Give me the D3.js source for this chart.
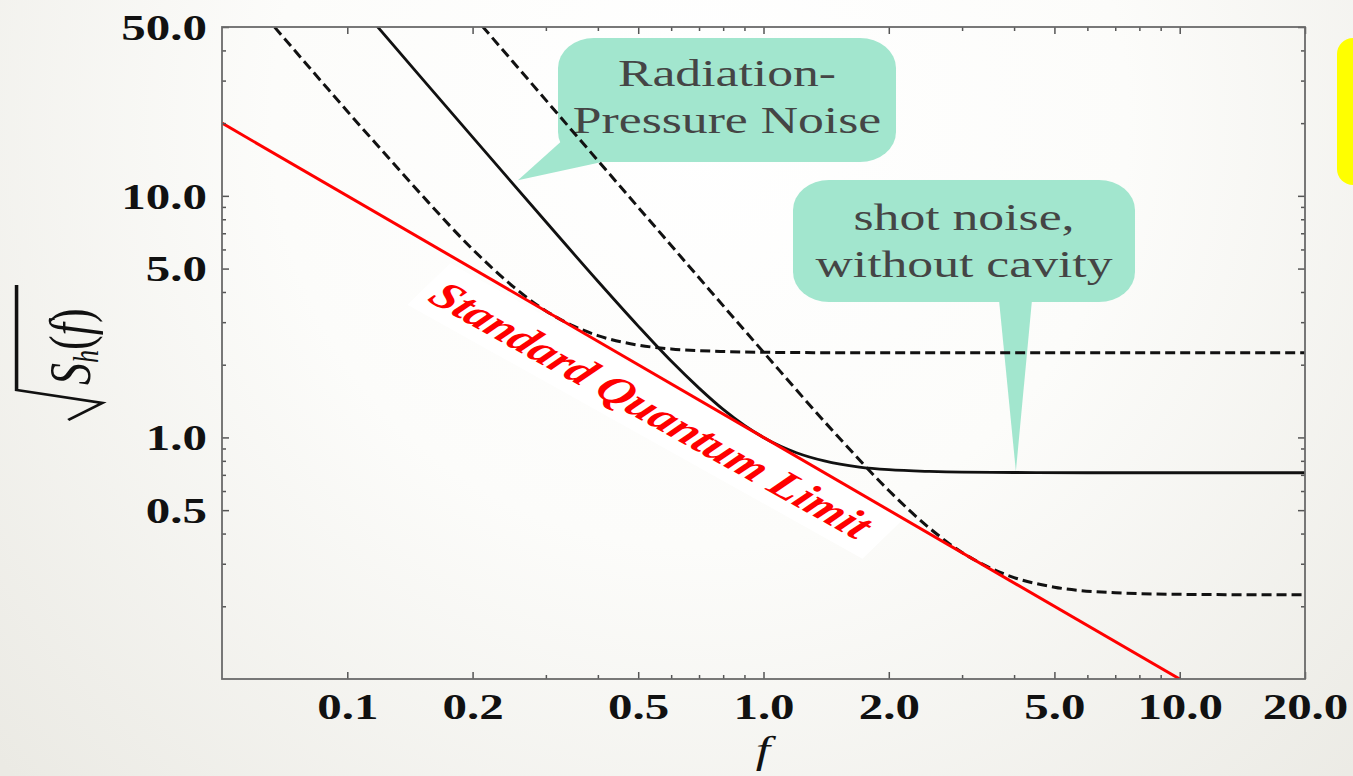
<!DOCTYPE html>
<html>
<head>
<meta charset="utf-8">
<script src="https://cdn.jsdelivr.net/npm/d3@7"></script>
<style>
    body { margin: 0; background: #fff; }
    svg { display: block; }
    .tick text { font-family: "Liberation Serif", serif; font-weight: bold; font-size: 36px; fill: #111; }
    .tick line { stroke: #555; stroke-width: 1.5px; }
    .bubble text { font-family: "Liberation Serif", serif; font-size: 38px; fill: #454545; }
</style>
</head>
<body>
<svg width="1353" height="776"></svg>
<script>
    // valores (f, sqrt(S_h))
    var sqlF = [0.05, 10];
    var sqlS = [20, 0.1];

    var solidF = [0.11, 0.15, 0.2, 0.3, 0.4, 0.5, 0.6, 0.7, 0.8, 0.9, 1.0, 1.1, 1.2, 1.4, 1.7, 2, 2.5, 3, 4, 6, 10, 20];
    var solidS = [57.9, 31.1, 17.5, 7.81, 4.43, 2.89, 2.07, 1.60, 1.306, 1.121, 1.0, 0.919, 0.864, 0.799, 0.754, 0.735, 0.723, 0.718, 0.716, 0.714, 0.714, 0.714];

    var dash1F = [0.06, 0.07, 0.08, 0.09, 0.1, 0.12, 0.15, 0.2, 0.25, 0.3, 0.35, 0.4, 0.5, 0.6, 0.8, 1.0, 1.5, 2.5, 5, 10, 20];
    var dash1S = [62.0, 45.6, 34.9, 27.6, 22.4, 15.7, 10.2, 6.01, 4.22, 3.34, 2.89, 2.64, 2.41, 2.325, 2.268, 2.252, 2.242, 2.241, 2.24, 2.24, 2.24];

    var dash2F = [0.2, 0.25, 0.3, 0.4, 0.5, 0.7, 1.0, 1.5, 2.0, 2.5, 3.0, 3.5, 4.0, 5.0, 7.0, 10, 20];
    var dash2S = [56.1, 35.9, 24.9, 14.0, 8.97, 4.58, 2.254, 1.021, 0.603, 0.4225, 0.334, 0.2885, 0.263, 0.240, 0.2276, 0.2241, 0.223];

    var xMajor = [0.1, 0.2, 0.5, 1, 2, 5, 10, 20];
    var xMinor = [0.3, 0.4, 0.6, 0.7, 0.8, 0.9, 3, 4, 6, 7, 8, 9];
    var yMajor = [0.5, 1, 5, 10, 50];
    var yMinor = [0.2, 0.3, 0.4, 0.6, 0.7, 0.8, 0.9, 2, 3, 4, 6, 7, 8, 9, 20, 30, 40];

    var svg = d3.select("svg"),
        width = +svg.attr("width"),
        height = +svg.attr("height");

    var stretch = 1.36; // o slide original foi esticado na horizontal

    var x = d3.scaleLog().domain([0.05, 20]).range([222, 1305]);
    var y = d3.scaleLog().domain([0.1, 50]).range([679, 27]);
    var fmt = d3.format(".1f");

    // fundo
    var defs = svg.append("defs");
    var grad = defs.append("radialGradient")
        .attr("id", "fundo")
        .attr("gradientUnits", "userSpaceOnUse")
        .attr("cx", 700).attr("cy", 120).attr("r", 950);
    grad.append("stop").attr("offset", "0").attr("stop-color", "#ffffff");
    grad.append("stop").attr("offset", "0.45").attr("stop-color", "#fcfcfa");
    grad.append("stop").attr("offset", "1").attr("stop-color", "#ebeae4");

    defs.append("clipPath").attr("id", "area")
        .append("rect")
        .attr("x", x.range()[0]).attr("y", y.range()[1])
        .attr("width", x.range()[1] - x.range()[0])
        .attr("height", y.range()[0] - y.range()[1]);

    svg.append("rect").attr("width", width).attr("height", height).attr("fill", "url(#fundo)");

    // caixa amarela cortada na direita
    svg.append("rect")
        .attr("x", 1337).attr("y", 38).attr("width", 60).attr("height", 147)
        .attr("rx", 16).attr("fill", "#ffff00");

    // balões
    function balao(r, tip, base, linhas, cx, y0) {
        var g = svg.append("g").attr("class", "bubble");
        g.append("rect")
            .attr("x", r[0]).attr("y", r[1]).attr("width", r[2]).attr("height", r[3])
            .attr("rx", 36).attr("ry", 30)
            .attr("fill", "#a2e6ce");
        g.append("path")
            .attr("d", "M" + base[0] + "L" + base[1] + "L" + tip + "Z")
            .attr("fill", "#a2e6ce");
        linhas.forEach(function (t, i) {
            g.append("text")
                .attr("text-anchor", "middle")
                .attr("transform", "translate(" + cx + "," + (y0 + i * 47) + ") scale(" + stretch + ",1)")
                .text(t);
        });
    }

    balao([558, 38, 338, 124], [x(0.257), y(11.6)], [[565, 138], [602, 162]],
        ["Radiation-", "Pressure Noise"], 727, 86);
    balao([793, 180, 342, 122], [x(4.04), y(0.725)], [[999, 300], [1032, 300]],
        ["shot noise,", "without cavity"], 964, 230);

    // faixa branca do rótulo SQL
    var ang = 37.2;
    var sqlG = svg.append("g")
        .attr("transform", "translate(426,300) scale(" + stretch + ",1) rotate(" + ang + ")");
    sqlG.append("rect")
        .attr("x", -8).attr("y", -40).attr("width", 420).attr("height", 52)
        .attr("fill", "#ffffff");

    // curvas
    var line = d3.line()
        .x(function (d) { return x(d[0]); })
        .y(function (d) { return y(d[1]); })
        .curve(d3.curveMonotoneX);

    var curvas = svg.append("g").attr("clip-path", "url(#area)").attr("fill", "none");

    curvas.append("path")
        .attr("d", line(d3.zip(dash1F, dash1S)))
        .attr("stroke", "#111").attr("stroke-width", 3).attr("stroke-dasharray", "10,5");
    curvas.append("path")
        .attr("d", line(d3.zip(dash2F, dash2S)))
        .attr("stroke", "#111").attr("stroke-width", 3).attr("stroke-dasharray", "10,5");
    curvas.append("path")
        .attr("d", line(d3.zip(solidF, solidS)))
        .attr("stroke", "#111").attr("stroke-width", 2.8);
    curvas.append("path")
        .attr("d", d3.line().x(function (d) { return x(d[0]); }).y(function (d) { return y(d[1]); })(d3.zip(sqlF, sqlS)))
        .attr("stroke", "#ff0000").attr("stroke-width", 3);

    sqlG.append("text")
        .attr("x", 0).attr("y", 0)
        .style("font-family", "'Liberation Serif', serif")
        .style("font-weight", "bold")
        .style("font-style", "italic")
        .style("font-size", "38px")
        .attr("fill", "#ff0000")
        .text("Standard Quantum Limit");

    // eixos com ticks para dentro
    function eixo(gen, vals, size, pos, labels) {
        var a = gen.tickValues(vals).tickSize(-size).tickSizeOuter(0)
            .tickFormat(labels ? fmt : "");
        var g = svg.append("g").attr("transform", pos).call(a);
        g.select(".domain").remove();
        return g;
    }

    var gb = eixo(d3.axisBottom(x), xMajor, 7, "translate(0,679)", true);
    gb.selectAll("text").attr("y", 0).attr("dy", null)
        .attr("transform", "translate(0,40) scale(" + stretch + ",1)");
    eixo(d3.axisBottom(x), xMinor, 4, "translate(0,679)", false);
    eixo(d3.axisTop(x), xMajor, 7, "translate(0,27)", false);
    eixo(d3.axisTop(x), xMinor, 4, "translate(0,27)", false);

    var gl = eixo(d3.axisLeft(y), yMajor, 7, "translate(222,0)", true);
    gl.selectAll("text").attr("x", 0).attr("dy", "0.34em")
        .attr("transform", "translate(-15,0) scale(" + stretch + ",1)");
    eixo(d3.axisLeft(y), yMinor, 4, "translate(222,0)", false);
    eixo(d3.axisRight(y), yMajor, 7, "translate(1305,0)", false);
    eixo(d3.axisRight(y), yMinor, 4, "translate(1305,0)", false);

    svg.append("rect")
        .attr("x", x.range()[0]).attr("y", y.range()[1])
        .attr("width", x.range()[1] - x.range()[0])
        .attr("height", y.range()[0] - y.range()[1])
        .attr("fill", "none").attr("stroke", "#6a6a6a").attr("stroke-width", 1.8);

    // rótulos dos eixos
    svg.append("text")
        .attr("text-anchor", "middle")
        .attr("transform", "translate(763,763) scale(" + stretch + ",1)")
        .style("font-family", "'Liberation Serif', serif")
        .style("font-style", "italic")
        .style("font-size", "38px")
        .attr("fill", "#111")
        .text("f");

    var yl = svg.append("g")
        .attr("transform", "translate(90,385) scale(" + stretch + ",1) rotate(-90)");
    var ylt = yl.append("text")
        .style("font-family", "'Liberation Serif', serif")
        .style("font-size", "44px")
        .attr("fill", "#111");
    ylt.append("tspan").style("font-style", "italic").text("S");
    ylt.append("tspan").style("font-style", "italic").style("font-size", "26px").attr("dy", 6).text("h");
    ylt.append("tspan").attr("dy", -6).text("(");
    ylt.append("tspan").style("font-style", "italic").text("f");
    ylt.append("tspan").text(")");
    yl.append("path")
        .attr("d", "M-35,-16L-18,9L-5,-54L100,-54")
        .attr("fill", "none").attr("stroke", "#111").attr("stroke-width", 2.6)
        .attr("stroke-linejoin", "miter");
</script>
</body>
</html>
